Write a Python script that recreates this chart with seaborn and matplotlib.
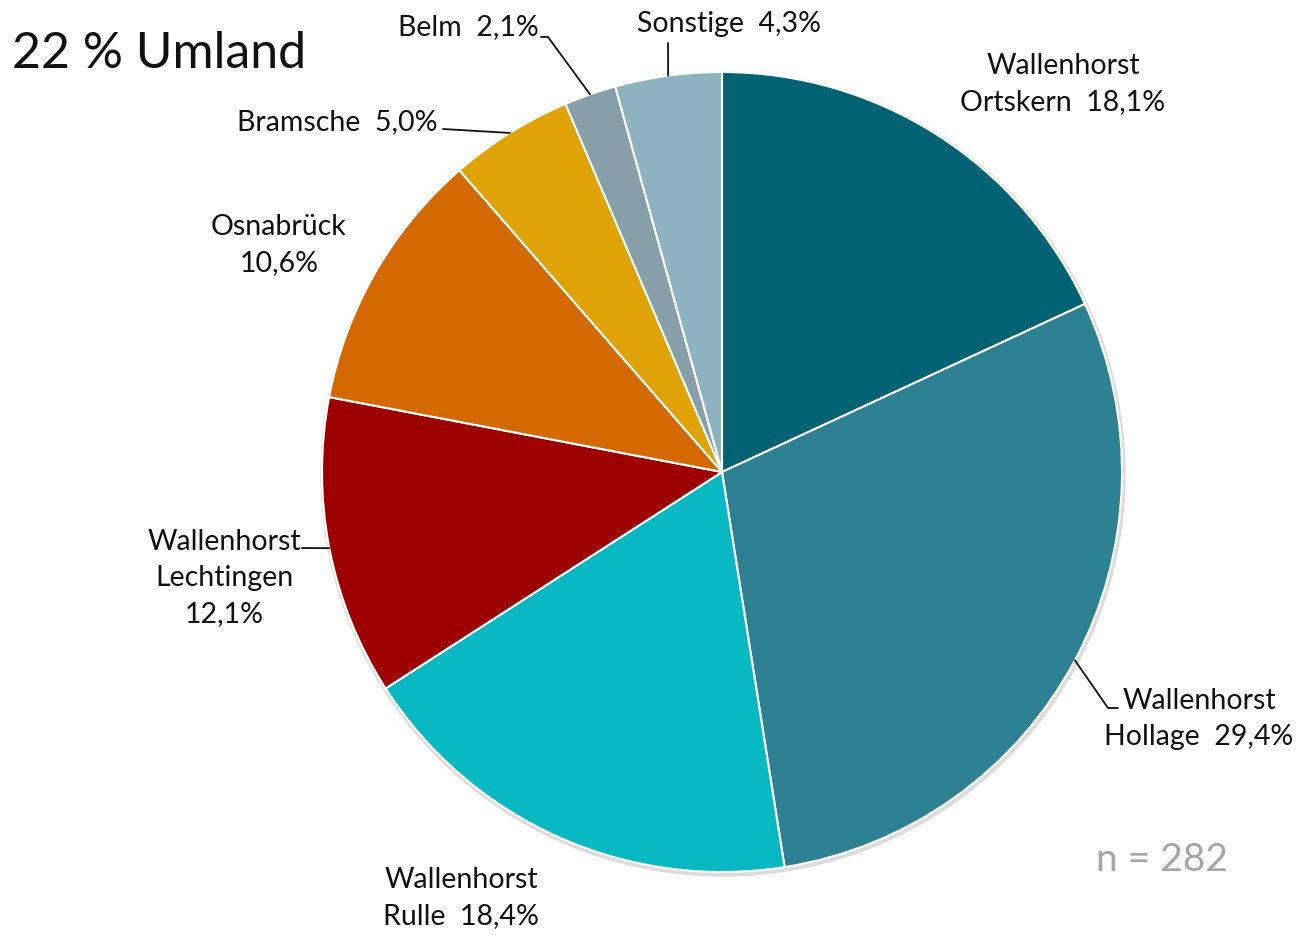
import numpy as np
import matplotlib
matplotlib.use('Agg')
import matplotlib.pyplot as plt
import seaborn as sns

# data
kategorien = ['Wallenhorst\nOrtskern', 'Wallenhorst\nHollage', 'Wallenhorst\nRulle',
              'Wallenhorst\nLechtingen', 'Osnabrück', 'Bramsche', 'Belm', 'Sonstige']
anteile = [18.1, 29.4, 18.4, 12.1, 10.6, 5.0, 2.1, 4.3]
farben = ['#006272', '#2e8093', '#08b8c2', '#9c0000', '#d36900', '#e0a307', '#869fa9', '#8db3c1']
titel = '22 % Umland'
n_text = 'n = 282'

sns.set_theme(style='white')
plt.rcParams['font.family'] = ['Lato', 'DejaVu Sans']

W, H = 1297, 936
fig = plt.figure(figsize=(W / 100, H / 100), dpi=100)
ax = fig.add_axes([0, 0, 1, 1])


def py(y):
    # pixel y (von oben) -> Achsen-y
    return H - y


cx, cy, r = 722, py(472), 400

# leichter Schatten
ax.add_patch(plt.Circle((cx + 1, cy - 2), r + 2, color='#dcdcdc', zorder=0))
wedges, _ = ax.pie(anteile, colors=farben, startangle=90, counterclock=False,
                   center=(cx, cy), radius=r, frame=True,
                   wedgeprops=dict(edgecolor='white', linewidth=1.5))
ax.set_xlim(0, W)
ax.set_ylim(0, H)
ax.set_aspect('equal')
ax.axis('off')


def fmt(v):
    return f'{v:.1f}'.replace('.', ',') + '%'


fs = 20.5
# Textpositionen (px) und Knickpunkte der Führungslinie
labels = [
    (kategorien[0] + '  ' + fmt(anteile[0]), (1063, 84), None),
    (kategorien[1] + '  ' + fmt(anteile[1]), (1199, 719), [(1108, 708), (1118, 708)]),
    (kategorien[2] + '  ' + fmt(anteile[2]), (461, 898), None),
    (kategorien[3] + '\n' + fmt(anteile[3]), (224, 578), [(302, 548)]),
    (kategorien[4] + '\n' + fmt(anteile[4]), (279, 245), None),
    (kategorien[5] + '  ' + fmt(anteile[5]), (337, 122), [(443, 129)]),
    (kategorien[6] + '  ' + fmt(anteile[6]), (468, 27), [(548, 37), (541, 37)]),
    (kategorien[7] + '  ' + fmt(anteile[7]), (729, 24), [(668, 43)]),
]

for w, (txt, (tx, ty), knicke) in zip(wedges, labels):
    ax.text(tx, py(ty), txt, ha='center', va='center', fontsize=fs,
            color='#111111', linespacing=1.48, zorder=5)
    if knicke:
        mid = np.deg2rad((w.theta1 + w.theta2) / 2)
        xs = [cx + r * np.cos(mid)] + [k[0] for k in knicke]
        ys = [cy + r * np.sin(mid)] + [py(k[1]) for k in knicke]
        ax.plot(xs, ys, color='#111111', linewidth=1.3, zorder=4)

ax.text(12, py(54), titel, ha='left', va='center', fontsize=36, color='#111111')
ax.text(1162, py(860), n_text, ha='center', va='center', fontsize=28, color='#a6a6a6')

fig.savefig('out.png', dpi=100, facecolor='white')
